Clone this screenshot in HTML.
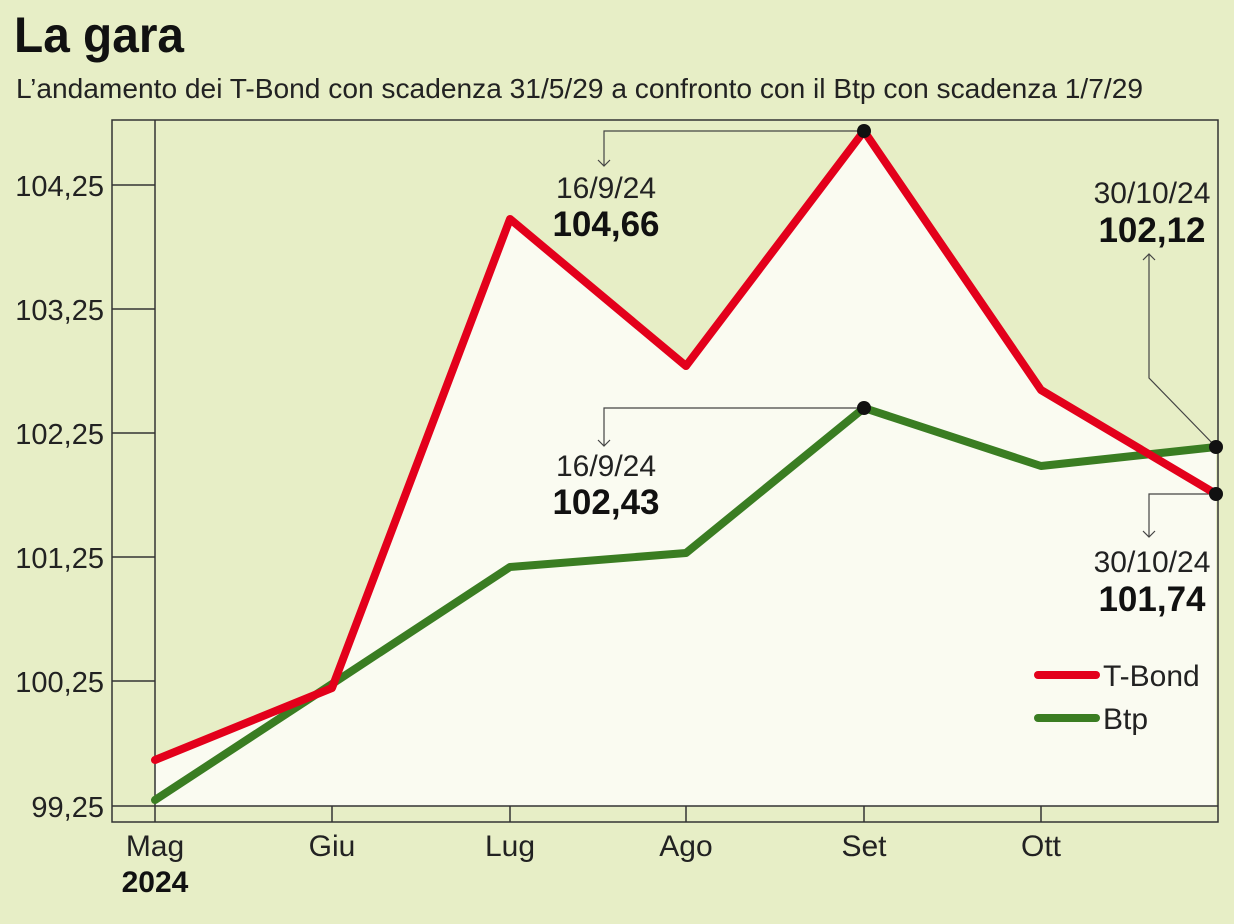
<!DOCTYPE html>
<html><head><meta charset="utf-8"><style>
html,body{margin:0;padding:0;background:#e7eec6;}
svg{display:block;font-family:"Liberation Sans Narrow","Liberation Sans",sans-serif;}
</style></head><body>
<svg width="1234" height="924" viewBox="0 0 1234 924">
<rect width="1234" height="924" fill="#e7eec6"/>
<text x="14" y="52" font-size="50" font-weight="bold" fill="#111" textLength="170" lengthAdjust="spacingAndGlyphs">La gara</text>
<text x="16" y="98" font-size="28" fill="#222" textLength="1127" lengthAdjust="spacingAndGlyphs">L’andamento dei T-Bond con scadenza 31/5/29 a confronto con il Btp con scadenza 1/7/29</text>
<g fill="#fafbf1">
<polygon points="155,760 332,688 510,219 686,366 864,131 1041,390 1216,494 1216,806 155,806"/>
<polygon points="155,800 332,684 510,567 686,553 864,408 1041,466 1216,447 1216,806 155,806"/>
</g>
<g stroke="#333" stroke-width="1.5" fill="none">
<path d="M112,822 V120 H1218 V822 Z"/>
<line x1="155" y1="120" x2="155" y2="822"/>
<line x1="112" y1="806" x2="1218" y2="806"/>
<line x1="112" y1="185" x2="155" y2="185"/>
<line x1="112" y1="309" x2="155" y2="309"/>
<line x1="112" y1="433" x2="155" y2="433"/>
<line x1="112" y1="557" x2="155" y2="557"/>
<line x1="112" y1="681" x2="155" y2="681"/>
<line x1="332" y1="806" x2="332" y2="822"/>
<line x1="510" y1="806" x2="510" y2="822"/>
<line x1="686" y1="806" x2="686" y2="822"/>
<line x1="864" y1="806" x2="864" y2="822"/>
<line x1="1041" y1="806" x2="1041" y2="822"/>
</g>
<g font-size="29" fill="#222" text-anchor="end">
<text x="104" y="196">104,25</text>
<text x="104" y="320">103,25</text>
<text x="104" y="444">102,25</text>
<text x="104" y="568">101,25</text>
<text x="104" y="692">100,25</text>
<text x="104" y="817">99,25</text>
</g>
<g font-size="30" fill="#222" text-anchor="middle">
<text x="155" y="856">Mag</text>
<text x="155" y="892" font-weight="bold" fill="#111">2024</text>
<text x="332" y="856">Giu</text>
<text x="510" y="856">Lug</text>
<text x="686" y="856">Ago</text>
<text x="864" y="856">Set</text>
<text x="1041" y="856">Ott</text>
</g>
<g stroke="#444" stroke-width="1.2" fill="none">
<path d="M864,131 H604 V166"/><path d="M598,160 L604,166 L610,160"/>
<path d="M864,408 H604 V446"/><path d="M598,440 L604,446 L610,440"/>
<path d="M1216,447 L1149,378 V254"/><path d="M1143,260 L1149,254 L1155,260"/>
<path d="M1216,494 H1149 V537"/><path d="M1143,531 L1149,537 L1155,531"/>
</g>
<g fill="none" stroke-width="8" stroke-linejoin="round" stroke-linecap="round">
<polyline stroke="#3a7d22" points="155,800 332,684 510,567 686,553 864,408 1041,466 1216,447"/>
<polyline stroke="#e3001b" points="155,760 332,688 510,219 686,366 864,131 1041,390 1216,494"/>
</g>
<g fill="#111">
<circle cx="864" cy="131" r="7"/><circle cx="864" cy="408" r="7"/>
<circle cx="1216" cy="447" r="7"/><circle cx="1216" cy="494" r="7"/>
</g>
<g text-anchor="middle" fill="#222">
<text x="606" y="198" font-size="30">16/9/24</text>
<text x="606" y="236" font-size="35" font-weight="bold" fill="#111">104,66</text>
<text x="606" y="476" font-size="30">16/9/24</text>
<text x="606" y="514" font-size="35" font-weight="bold" fill="#111">102,43</text>
<text x="1152" y="203" font-size="30">30/10/24</text>
<text x="1152" y="242" font-size="35" font-weight="bold" fill="#111">102,12</text>
<text x="1152" y="572" font-size="30">30/10/24</text>
<text x="1152" y="611" font-size="35" font-weight="bold" fill="#111">101,74</text>
</g>
<g stroke-width="8" stroke-linecap="round">
<line x1="1038" y1="675" x2="1096" y2="675" stroke="#e3001b"/>
<line x1="1038" y1="718" x2="1096" y2="718" stroke="#3a7d22"/>
</g>
<g font-size="30" fill="#222">
<text x="1103" y="686">T-Bond</text>
<text x="1103" y="729">Btp</text>
</g>
</svg>
</body></html>
